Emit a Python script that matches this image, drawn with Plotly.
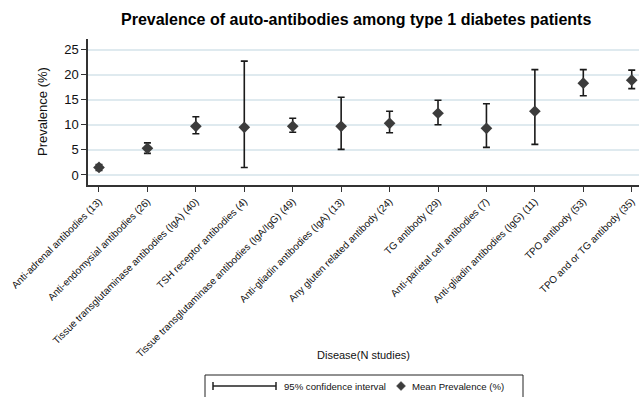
import plotly.graph_objects as go

categories = [
    "Anti-adrenal antibodies (13)",
    "Anti-endomysial antibodies (26)",
    "Tissue transglutaminase antibodies (IgA) (40)",
    "TSH receptor antibodies (4)",
    "Tissue transglutaminase antibodies (IgA/IgG) (49)",
    "Anti-gliadin antibodies (IgA) (13)",
    "Any gluten related antibody (24)",
    "TG antibody (29)",
    "Anti-parietal cell antibodies (7)",
    "Anti-gliadin antibodies (IgG) (11)",
    "TPO antibody (53)",
    "TPO and or TG antibody (35)",
]
mean_prev = [1.5, 5.3, 9.7, 9.5, 9.7, 9.7, 10.3, 12.3, 9.3, 12.7, 18.3, 18.9]
ci_low = [0.9, 4.3, 8.2, 1.5, 8.5, 5.1, 8.4, 10.0, 5.5, 6.1, 15.8, 17.2]
ci_high = [2.1, 6.4, 11.6, 22.7, 11.3, 15.5, 12.7, 14.9, 14.2, 21.0, 21.0, 20.9]
y_ticks = [0, 5, 10, 15, 20, 25]

FONT = "Liberation Sans, Arial, sans-serif"
W, H = 641, 397
ML, MR, MT, MB = 88, 2, 39, 212
PW = W - ML - MR
PH = H - MT - MB


def px(x):
    return (x - ML) / PW


def py(y):
    return (H - MB - y) / PH


xs = list(range(len(categories)))
fig = go.Figure()
fig.add_trace(go.Scatter(
    x=xs, y=mean_prev, mode="markers",
    marker=dict(symbol="diamond", size=9, color="#3c3c3c"),
    error_y=dict(type="data", symmetric=False,
                 array=[h - m for h, m in zip(ci_high, mean_prev)],
                 arrayminus=[m - l for m, l in zip(mean_prev, ci_low)],
                 color="#1a1a1a", thickness=1.6, width=3.5),
    showlegend=False,
))

fig.update_layout(
    width=W, height=H,
    margin=dict(l=ML, r=MR, t=MT, b=MB, autoexpand=False),
    paper_bgcolor="white", plot_bgcolor="white",
    font=dict(family=FONT, color="#111"),
    showlegend=False,
    xaxis=dict(
        range=[-0.227, 11.15], tickmode="array", tickvals=xs, ticktext=categories,
        tickangle=-45, tickfont=dict(size=10, family=FONT, color="#111"),
        showgrid=False, zeroline=False, showline=True, linecolor="#333", linewidth=1.5,
        ticks="outside", ticklen=5, tickcolor="#333", tickwidth=1, automargin=False,
    ),
    yaxis=dict(
        range=[-2, 27.1], tickvals=y_ticks, tickfont=dict(size=13, family=FONT, color="#111"),
        showgrid=True, gridcolor="#dfeaef", gridwidth=1.5, zeroline=False,
        showline=True, linecolor="#333", linewidth=1.5,
        ticks="outside", ticklen=5, tickcolor="#333", automargin=False,
    ),
)

annotations = [
    dict(text="<b>Prevalence of auto-antibodies among type 1 diabetes patients</b>",
         x=px(356), y=py(20), xref="paper", yref="paper", showarrow=False,
         xanchor="center", yanchor="middle", font=dict(size=16, family=FONT, color="#000")),
    dict(text="Prevalence (%)", x=px(42), y=py(112), xref="paper", yref="paper",
         showarrow=False, xanchor="center", yanchor="middle", textangle=-90,
         font=dict(size=13, family=FONT, color="#111")),
    dict(text="Disease(N studies)", x=px(363), y=py(355), xref="paper", yref="paper",
         showarrow=False, xanchor="center", yanchor="middle",
         font=dict(size=11, family=FONT, color="#111")),
    dict(text="95% confidence interval", x=px(282), y=py(386), xref="paper", yref="paper",
         showarrow=False, xanchor="left", yanchor="middle",
         font=dict(size=9.6, family=FONT, color="#111")),
    dict(text="Mean Prevalence (%)", x=px(410), y=py(386), xref="paper", yref="paper",
         showarrow=False, xanchor="left", yanchor="middle",
         font=dict(size=9.6, family=FONT, color="#111")),
]
fig.update_layout(annotations=annotations)

lc = "#222"
shapes = [
    dict(type="rect", xref="paper", yref="paper", x0=px(205), x1=px(523), y0=py(375), y1=py(402),
         line=dict(color=lc, width=1)),
    dict(type="line", xref="paper", yref="paper", x0=px(213), x1=px(276), y0=py(386), y1=py(386),
         line=dict(color=lc, width=1.5)),
    dict(type="line", xref="paper", yref="paper", x0=px(213), x1=px(213), y0=py(382), y1=py(390),
         line=dict(color=lc, width=1.5)),
    dict(type="line", xref="paper", yref="paper", x0=px(276), x1=px(276), y0=py(382), y1=py(390),
         line=dict(color=lc, width=1.5)),
]
cx, cy, r = 401, 386, 4.5
fig.update_layout(shapes=shapes)
fig.add_shape(type="path", xref="paper", yref="paper",
              path=f"M {px(cx - r)} {py(cy)} L {px(cx)} {py(cy - r)} L {px(cx + r)} {py(cy)} L {px(cx)} {py(cy + r)} Z",
              fillcolor="#3c3c3c", line=dict(color="#3c3c3c", width=0.5))

fig.write_html("out.html", config={"displayModeBar": False},
               post_script="document.body.style.margin='0px';document.body.style.overflow='hidden';")
